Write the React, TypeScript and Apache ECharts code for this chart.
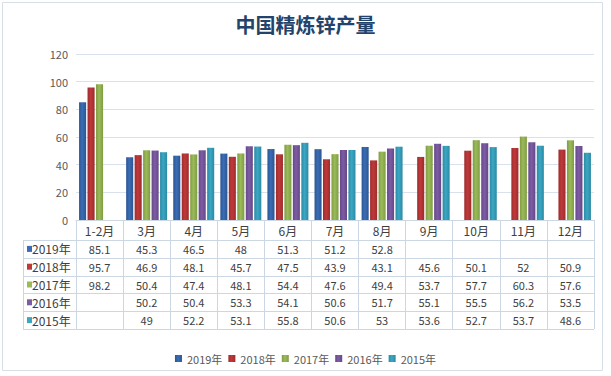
import React, { useEffect, useRef } from "react";
import * as echarts from "echarts";

const categories = ["1-2月", "3月", "4月", "5月", "6月", "7月", "8月", "9月", "10月", "11月", "12月"];
const years = ["2019年", "2018年", "2017年", "2016年", "2015年"];
const s2019 = [85.1, 45.3, 46.5, 48, 51.3, 51.2, 52.8, null, null, null, null];
const s2018 = [95.7, 46.9, 48.1, 45.7, 47.5, 43.9, 43.1, 45.6, 50.1, 52, 50.9];
const s2017 = [98.2, 50.4, 47.4, 48.1, 54.4, 47.6, 49.4, 53.7, 57.7, 60.3, 57.6];
const s2016 = [null, 50.2, 50.4, 53.3, 54.1, 50.6, 51.7, 55.1, 55.5, 56.2, 53.5];
const s2015 = [null, 49, 52.2, 53.1, 55.8, 50.6, 53, 53.6, 52.7, 53.7, 48.6];
const seriesData = [s2019, s2018, s2017, s2016, s2015];
const colors = ["#3a6db5", "#c0393a", "#9bbb59", "#7e5ca5", "#3ba7c4"];
const darkColors = ["#2c5592", "#9e2c2c", "#7f9c43", "#654888", "#2b8aa3"];

const W = 611;
const H = 376;
const GRID_LEFT = 76;
const GRID_RIGHT_X = 594;
const GRID_TOP = 54;
const AXIS_Y = 220;
const HEADER_H = 20;
const ROW_H = 17.8;
const TABLE_LEFT = 23;
const LINE_COLOR = "#cbd7e3";
const FONT = "'Noto Sans CJK SC', 'Noto Sans', sans-serif";

export default function App() {
  const ref = useRef<HTMLDivElement>(null);
  useEffect(() => {
    if (!ref.current) return;
    const chart = echarts.init(ref.current, null, { renderer: "svg" });
    const tableTop = AXIS_Y + HEADER_H;
    const tableBottom = tableTop + ROW_H * years.length;

    const graphics: any[] = [];
    graphics.push({
      type: "rect",
      shape: { x: 2.5, y: 2.5, width: 600, height: 368 },
      style: { fill: "none", stroke: "#d6dee8", lineWidth: 1 },
      silent: true,
    });
    for (let i = 0; i <= years.length; i++) {
      const y = Math.round(tableTop + i * ROW_H) + 0.5;
      graphics.push({
        type: "line",
        shape: { x1: TABLE_LEFT, y1: y, x2: GRID_RIGHT_X, y2: y },
        style: { stroke: LINE_COLOR, lineWidth: 1 },
        silent: true,
      });
    }
    graphics.push({
      type: "line",
      shape: { x1: TABLE_LEFT + 0.5, y1: tableTop, x2: TABLE_LEFT + 0.5, y2: tableBottom },
      style: { stroke: LINE_COLOR, lineWidth: 1 },
      silent: true,
    });
    years.forEach((name, i) => {
      const cy = tableTop + i * ROW_H + ROW_H / 2;
      graphics.push({
        type: "rect",
        shape: { x: 27, y: cy - 3, width: 5, height: 6 },
        style: { fill: colors[i] },
        silent: true,
      });
      graphics.push({
        type: "text",
        x: 32,
        y: cy,
        style: {
          text: name,
          fill: "#404040",
          font: `12px ${FONT}`,
          verticalAlign: "middle",
          align: "left",
        },
        silent: true,
      });
    });

    chart.setOption({
      animation: false,
      backgroundColor: "#ffffff",
      title: {
        text: "中国精炼锌产量",
        left: "center",
        top: 9,
        textStyle: { fontFamily: FONT, fontSize: 20, fontWeight: "bold", color: "#24436b" },
      },
      legend: {
        data: years,
        top: 348,
        left: "center",
        icon: "rect",
        itemWidth: 7,
        itemHeight: 7,
        itemGap: 6,
        textStyle: { fontFamily: FONT, fontSize: 11, color: "#595959" },
      },
      grid: {
        left: GRID_LEFT,
        right: W - GRID_RIGHT_X,
        top: GRID_TOP,
        bottom: H - AXIS_Y,
        containLabel: false,
      },
      xAxis: {
        type: "category",
        data: categories,
        axisLine: { show: true, lineStyle: { color: LINE_COLOR } },
        axisTick: {
          show: true,
          interval: 0,
          length: HEADER_H + ROW_H * years.length,
          lineStyle: { color: LINE_COLOR },
        },
        axisLabel: {
          interval: 0,
          margin: 0,
          fontFamily: FONT,
          formatter: (value: string, index: number) => {
            const parts = [`{h|${value}}`];
            seriesData.forEach((arr) => {
              const v = arr[index];
              parts.push(`{v|${v === null || v === undefined ? "\u00a0" : String(v)}}`);
            });
            return parts.join("\n");
          },
          rich: {
            h: { fontFamily: FONT, fontSize: 12, color: "#404040", lineHeight: HEADER_H, height: HEADER_H },
            v: { fontFamily: FONT, fontSize: 11, color: "#404040", lineHeight: ROW_H, height: ROW_H },
          },
        },
      },
      yAxis: {
        type: "value",
        min: 0,
        max: 120,
        interval: 20,
        axisLine: { show: false },
        axisTick: { show: false },
        axisLabel: { fontFamily: FONT, fontSize: 11, color: "#595959", margin: 8 },
        splitLine: { lineStyle: { color: "#d9e2ec" } },
      },
      series: years.map((name, i) => ({
        name,
        type: "bar",
        data: seriesData[i],
        barGap: "20%",
        barCategoryGap: "13%",
        itemStyle: {
          color: new echarts.graphic.LinearGradient(0, 0, 1, 0, [
            { offset: 0, color: darkColors[i] },
            { offset: 0.45, color: colors[i] },
            { offset: 1, color: darkColors[i] },
          ]),
        },
      })),
      graphic: graphics,
    });
    return () => chart.dispose();
  }, []);
  return (
    <div
      ref={ref}
      style={{ position: "absolute", left: 0, top: 0, width: W, height: H, background: "#fff" }}
    />
  );
}
